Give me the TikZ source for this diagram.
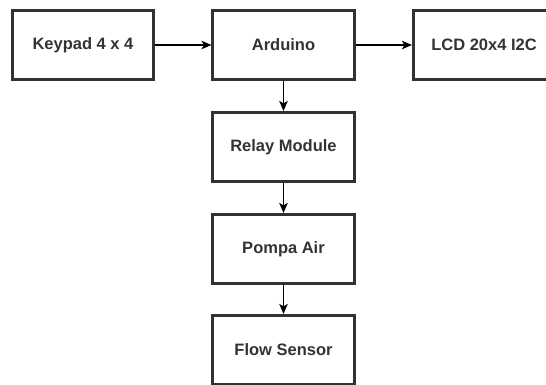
\documentclass[tikz,border=0pt]{standalone}
\usepackage{fontspec}
\setmainfont{Liberation Sans}
\usetikzlibrary{arrows.meta}
\definecolor{boxline}{RGB}{50,50,50}
\definecolor{txt}{RGB}{51,51,51}
\tikzset{
  blk/.style={draw=boxline, line width=2.6pt, fill=white, minimum width=141.5pt, minimum height=69.5pt,
    inner sep=0pt, text=txt, font=\fontsize{16.5}{19}\selectfont\bfseries},
  arr/.style={draw=black, line width=1.4pt, -{Stealth[length=10pt,width=8.5pt,inset=2.5pt]}}
}
\begin{document}
\begin{tikzpicture}[x=1pt,y=-1pt]
\useasboundingbox (0,0) rectangle (546,385);
\node[blk] (k) at (83,45) {Keypad 4 x 4};
\node[blk] (a) at (283.5,45) {Arduino};
\node[blk] (l) at (484,45) {LCD 20x4 I2C};
\node[blk] (r) at (283.5,147) {Relay Module};
\node[blk] (p) at (283.5,249) {Pompa Air};
\node[blk] (f) at (283.5,350) {Flow Sensor};
\draw[arr] (k) -- (a);
\draw[arr] (a) -- (l);
\draw[arr] (a) -- (r);
\draw[arr] (r) -- (p);
\draw[arr] (p) -- (f);
\end{tikzpicture}
\end{document}
